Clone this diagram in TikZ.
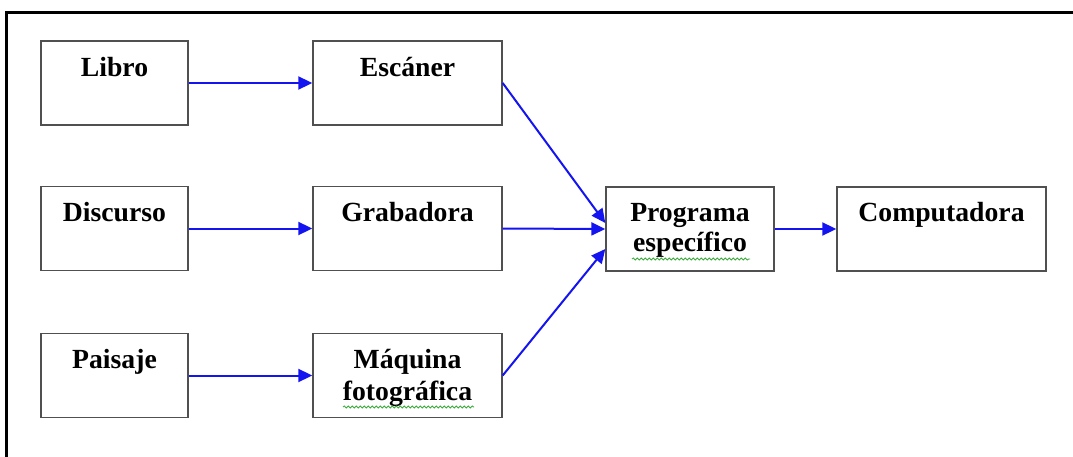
\documentclass[tikz,border=0pt]{standalone}
\usepackage{fontspec}
\setmainfont{Liberation Serif}
\usetikzlibrary{arrows.meta,decorations.pathmorphing}
\definecolor{arrowblue}{RGB}{20,20,240}
\definecolor{boxgray}{RGB}{80,80,80}
\definecolor{spellgreen}{RGB}{60,170,60}
\tikzset{
  box/.style={draw=boxgray, line width=1.4pt, fill=white, inner sep=0pt},
  lbl/.style={anchor=base, inner sep=0pt, font=\fontsize{27.7}{31}\selectfont\bfseries},
  conn/.style={draw=arrowblue, line width=2pt, -{Triangle[length=14pt,width=13pt]}},
  squig/.style={draw=spellgreen, line width=0.8pt, decorate, decoration={snake, amplitude=1.1pt, segment length=4pt}},
  frameline/.style={line width=3pt, black}
}
\begin{document}
\begin{tikzpicture}[x=1pt,y=-1pt]
\useasboundingbox (0,0) rectangle (1073,457);
% outer frame
\coordinate (ftl) at (6,13);
\coordinate (ftr) at (1073,13);
\coordinate (fbl) at (6,457);
\draw[frameline] (ftr) -- (ftl) -- (fbl);
% boxes
\node[box, minimum width=147pt, minimum height=84pt] (libro) at (114.5,83) {};
\node[box, minimum width=147pt, minimum height=84pt] (discurso) at (114.5,228.5) {};
\node[box, minimum width=147pt, minimum height=84pt] (paisaje) at (114.5,375.5) {};
\node[box, minimum width=189pt, minimum height=84pt] (escaner) at (407.5,83) {};
\node[box, minimum width=189pt, minimum height=84pt] (grabadora) at (407.5,228.5) {};
\node[box, minimum width=189pt, minimum height=84pt] (maquina) at (407.5,375.5) {};
\node[box, minimum width=168pt, minimum height=84pt] (programa) at (690,229) {};
\node[box, minimum width=209pt, minimum height=84pt] (computadora) at (941.5,229) {};
% labels
\node[lbl] (tlibro) at ([yshift=-36pt]libro.north) {Libro};
\node[lbl] (tdiscurso) at ([yshift=-36pt]discurso.north) {Discurso};
\node[lbl] (tpaisaje) at ([yshift=-36pt]paisaje.north) {Paisaje};
\node[lbl] (tescaner) at ([yshift=-36pt]escaner.north) {Escáner};
\node[lbl] (tgrabadora) at ([yshift=-36pt]grabadora.north) {Grabadora};
\node[lbl] (tmaquina1) at ([yshift=-36pt]maquina.north) {Máquina};
\node[lbl] (tmaquina2) at ([yshift=-68pt]maquina.north) {fotográfica};
\node[lbl] (tprograma1) at ([yshift=-35pt]programa.north) {Programa};
\node[lbl] (tprograma2) at ([yshift=-65pt]programa.north) {específico};
\node[lbl] (tcomputadora) at ([yshift=-35pt]computadora.north) {Computadora};
% spell-check squiggles
\coordinate (sq1a) at (632,259);
\coordinate (sq1b) at (750,259);
\coordinate (sq2a) at (343,407);
\coordinate (sq2b) at (474,407);
\draw[squig] (sq1a) -- (sq1b);
\draw[squig] (sq2a) -- (sq2b);
% connectors
\draw[conn] (libro.east) -- (escaner.west);
\draw[conn] (discurso.east) -- (grabadora.west);
\draw[conn] (paisaje.east) -- (maquina.west);
\draw[conn] (escaner.east) -- ([yshift=6pt]programa.west);
\draw[conn] (grabadora.east) -- (programa.west);
\draw[conn] (maquina.east) -- ([yshift=-20pt]programa.west);
\draw[conn] (programa.east) -- (computadora.west);
\end{tikzpicture}
\end{document}
